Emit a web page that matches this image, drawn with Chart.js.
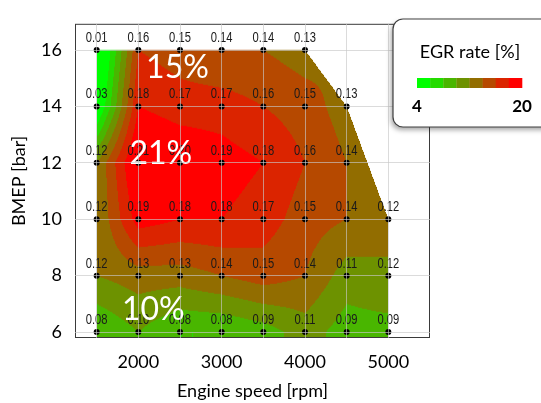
<!DOCTYPE html>
<html>
<head>
<meta charset="utf-8">
<script src="https://cdn.jsdelivr.net/npm/chart.js@4.4.0/dist/chart.umd.min.js"></script>
<style>
    html, body { margin: 0; padding: 0; background: #fff; }
    #wrap { width: 541px; height: 403px; }
</style>
</head>
<body>
<div id="wrap"><canvas id="egr" width="541" height="403"></canvas></div>
<script>
// operating grid: engine speed [rpm] x BMEP [bar], EGR rate as a fraction
const speeds = [1500, 2000, 2500, 3000, 3500, 4000, 4500, 5000];
const bmepLevels = [6, 8, 10, 12, 14, 16];
const egrAt6  = [0.08, 0.10, 0.08, 0.08, 0.09, 0.11, 0.09, 0.09];
const egrAt8  = [0.12, 0.13, 0.13, 0.14, 0.15, 0.14, 0.11, 0.12];
const egrAt10 = [0.12, 0.19, 0.18, 0.18, 0.17, 0.15, 0.14, 0.12];
const egrAt12 = [0.12, 0.21, 0.20, 0.19, 0.18, 0.16, 0.14, null];
const egrAt14 = [0.03, 0.18, 0.17, 0.17, 0.16, 0.15, 0.13, null];
const egrAt16 = [0.01, 0.16, 0.15, 0.14, 0.14, 0.13, null, null];
const egrRows = [egrAt6, egrAt8, egrAt10, egrAt12, egrAt14, egrAt16];

// full-load outline of the map (speed, bmep)
const mapOutline = [[1500, 5.79], [5000, 5.79], [5000, 10], [4500, 14], [4000, 16], [1500, 16]];

const xTicks = [1500, 2000, 2500, 3000, 3500, 4000, 4500, 5000];
const yTicks = [6, 8, 10, 12, 14, 16];

const zoneText = ["15%", "21%", "10%"];
const zoneSpeed = [2470, 2270, 2180];
const zoneBmep = [15.38, 12.34, 6.78];

const legendMin = 4, legendMax = 20, legendSteps = 8;

const levelColors = Array.from({ length: legendSteps }, (_, k) => {
    const t = k / (legendSteps - 1);
    return [Math.round(255 * t), Math.round(255 * (1 - t)), 0];
});

const clamp = (v, lo, hi) => Math.min(hi, Math.max(lo, v));

function insideOutline(sx, by) {
    let inside = false;
    for (let i = 0, j = mapOutline.length - 1; i < mapOutline.length; j = i++) {
        const [xi, yi] = mapOutline[i], [xj, yj] = mapOutline[j];
        if ((yi > by) !== (yj > by) && sx < (xj - xi) * (by - yi) / (yj - yi) + xi) inside = !inside;
    }
    return inside;
}

function egrAt(sx, by) {
    let i = 0; while (i < speeds.length - 2 && sx > speeds[i + 1]) i++;
    let j = 0; while (j < bmepLevels.length - 2 && by > bmepLevels[j + 1]) j++;
    const fx = clamp((sx - speeds[i]) / (speeds[i + 1] - speeds[i]), 0, 1);
    const fy = clamp((by - bmepLevels[j]) / (bmepLevels[j + 1] - bmepLevels[j]), 0, 1);
    const corners = [[j, i, (1 - fx) * (1 - fy)], [j, i + 1, fx * (1 - fy)], [j + 1, i, (1 - fx) * fy], [j + 1, i + 1, fx * fy]];
    let sum = 0, w = 0, plain = 0, n = 0;
    corners.forEach(([r, c, k]) => {
        const v = egrRows[r][c];
        if (v != null) { sum += v * k; w += k; plain += v; n++; }
    });
    if (w < 1e-6) return n ? plain / n : 0;
    return sum / w;
}

const contourMap = {
    id: "contourMap",
    beforeDraw(chart) {
        const { ctx, chartArea: a, scales: { x, y } } = chart;
        const w = Math.round(a.right - a.left), h = Math.round(a.bottom - a.top);
        const off = document.createElement("canvas");
        off.width = w; off.height = h;
        const octx = off.getContext("2d");
        const img = octx.createImageData(w, h);
        const step = (legendMax - legendMin) / legendSteps;
        for (let py = 0; py < h; py++) {
            const by = y.getValueForPixel(a.top + py + 0.5);
            for (let px = 0; px < w; px++) {
                const sx = x.getValueForPixel(a.left + px + 0.5);
                if (!insideOutline(sx, by)) continue;
                const v = egrAt(sx, Math.max(by, bmepLevels[0])) * 100;
                const c = levelColors[clamp(Math.floor((v - legendMin) / step), 0, legendSteps - 1)];
                const o = (py * w + px) * 4;
                img.data[o] = c[0]; img.data[o + 1] = c[1]; img.data[o + 2] = c[2]; img.data[o + 3] = 255;
            }
        }
        octx.putImageData(img, 0, 0);
        ctx.drawImage(off, a.left, a.top);
    }
};

const mapLabels = {
    id: "mapLabels",
    afterDatasetsDraw(chart) {
        const { ctx, chartArea: a, scales: { x, y } } = chart;
        const meta = chart.getDatasetMeta(0);
        const pts = chart.data.datasets[0].data;
        ctx.save();
        ctx.font = "14px 'Liberation Sans', Arial, sans-serif";
        ctx.fillStyle = "#1a1a1a";
        ctx.textAlign = "center";
        ctx.textBaseline = "middle";
        // slightly narrow look of the original value labels
        meta.data.forEach((el, k) => {
            ctx.save();
            ctx.translate(el.x, el.y - 12);
            ctx.scale(0.8, 1);
            ctx.fillText(pts[k].v.toFixed(2), 0, 0);
            ctx.restore();
        });

        ctx.font = "32px Lato, 'Open Sans', sans-serif";
        ctx.fillStyle = "#fff";
        zoneText.forEach((t, k) => ctx.fillText(t, x.getPixelForValue(zoneSpeed[k]), y.getPixelForValue(zoneBmep[k])));

        ctx.strokeStyle = "#3a3a3a";
        ctx.lineWidth = 1;
        ctx.strokeRect(a.left + 0.5, a.top + 0.5, a.right - a.left - 1, a.bottom - a.top - 1);
        ctx.restore();
    },
    afterDraw(chart) {
        const { ctx, chartArea: a } = chart;
        const bx = a.right - 37, by = 19, bw = 170, bh = 108;
        ctx.save();
        ctx.shadowColor = "rgba(0,0,0,0.35)";
        ctx.shadowBlur = 5;
        ctx.shadowOffsetX = -2;
        ctx.shadowOffsetY = 3;
        ctx.beginPath();
        ctx.roundRect(bx, by, bw, bh, 10);
        ctx.fillStyle = "#fff";
        ctx.fill();
        ctx.shadowColor = "transparent";
        ctx.strokeStyle = "#404040";
        ctx.lineWidth = 1.2;
        ctx.stroke();

        ctx.fillStyle = "#000";
        ctx.textAlign = "center";
        ctx.textBaseline = "middle";
        ctx.font = "18px Lato, 'Open Sans', sans-serif";
        ctx.fillText("EGR rate [%]", bx + 77, by + 33);

        const barL = bx + 24, barW = 105, segW = barW / legendSteps;
        levelColors.forEach((c, k) => {
            ctx.fillStyle = `rgb(${c[0]},${c[1]},${c[2]})`;
            ctx.fillRect(barL + k * segW, by + 59, segW + 0.3, 10);
        });
        ctx.fillStyle = "#000";
        ctx.font = "bold 17px Lato, 'Open Sans', sans-serif";
        ctx.fillText(String(legendMin), barL, by + 88);
        ctx.fillText(String(legendMax), barL + barW, by + 88);
        ctx.restore();
    }
};

const gridPoints = [];
egrRows.forEach((row, j) => row.forEach((v, i) => {
    if (v != null) gridPoints.push({ x: speeds[i], y: bmepLevels[j], v });
}));

const axisFont = { family: "Lato, 'Open Sans', sans-serif", size: 18 };

new Chart(document.getElementById("egr"), {
    type: "scatter",
    data: {
        datasets: [{
            data: gridPoints,
            pointRadius: 3,
            pointHoverRadius: 3,
            backgroundColor: "#000",
            borderColor: "#000",
            borderWidth: 0
        }]
    },
    options: {
        responsive: false,
        animation: false,
        events: [],
        layout: { padding: { top: 7, right: 111, left: 0, bottom: 0 } },
        plugins: { legend: { display: false }, tooltip: { enabled: false } },
        scales: {
            x: {
                type: "linear",
                min: 1240,
                max: 5500,
                afterFit: scale => { scale.height = 65; },
                afterBuildTicks: scale => { scale.ticks = xTicks.map(v => ({ value: v })); },
                ticks: {
                    padding: 13,
                    color: "#000",
                    font: axisFont,
                    maxRotation: 0,
                    autoSkip: false,
                    callback: v => (v % 1000 === 0 ? String(v) : "")
                },
                grid: { color: "rgba(200,200,200,0.65)", drawTicks: false, z: 1 },
                border: { display: false },
                title: { display: true, text: "Engine speed [rpm]", color: "#000", font: axisFont, padding: { top: 0, bottom: 1 } }
            },
            y: {
                type: "linear",
                min: 5.79,
                max: 16.93,
                afterFit: scale => { scale.width = 75; },
                afterBuildTicks: scale => { scale.ticks = yTicks.map(v => ({ value: v })); },
                ticks: { padding: 13, color: "#000", font: axisFont, autoSkip: false },
                grid: { color: "rgba(200,200,200,0.65)", drawTicks: false, z: 1 },
                border: { display: false },
                title: { display: true, text: "BMEP [bar]", color: "#000", font: axisFont, padding: { top: 8, bottom: 0 } }
            }
        }
    },
    plugins: [contourMap, mapLabels]
});
</script>
</body>
</html>
